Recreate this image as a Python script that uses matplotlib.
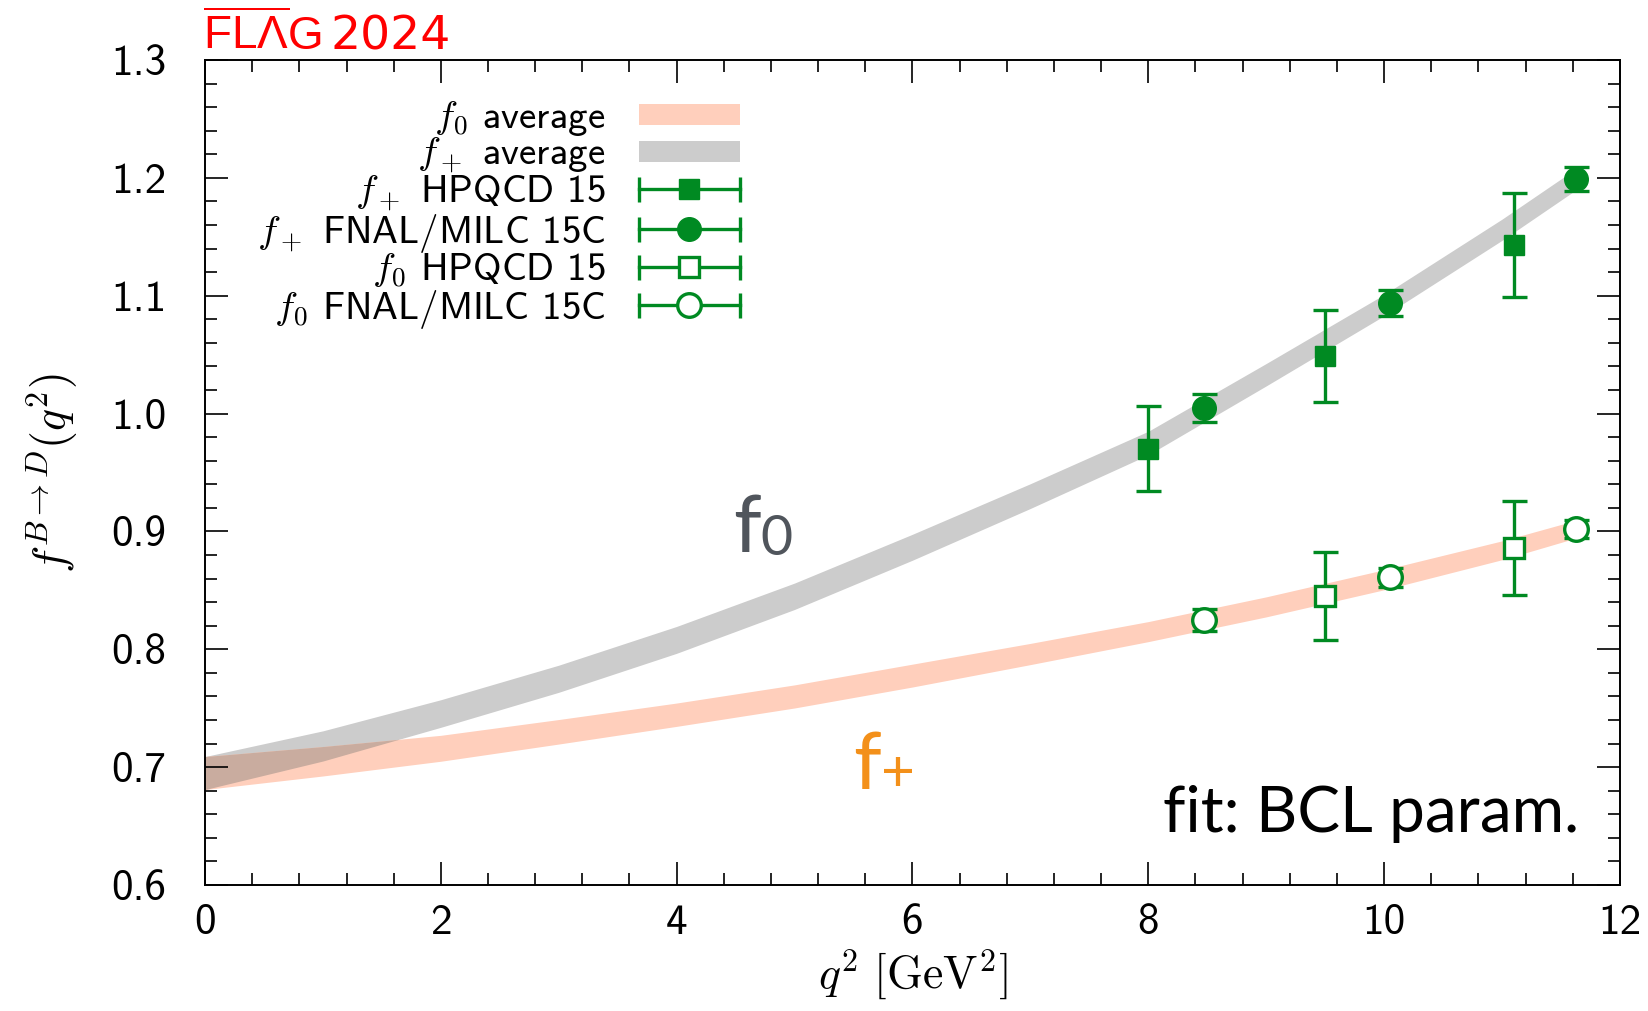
import numpy as np
import matplotlib
matplotlib.use("Agg")
import matplotlib.pyplot as plt
from matplotlib.ticker import MultipleLocator, FormatStrFormatter
from matplotlib.legend_handler import HandlerBase
from matplotlib.lines import Line2D
from matplotlib.patches import Patch

plt.rcParams['mathtext.fontset'] = 'cm'

# bands (average)
q2_band = [0, 1, 2, 3, 4, 5, 6, 7, 8, 9, 10, 11, 11.63]
fp_avg = [0.695, 0.718, 0.7455, 0.775, 0.808, 0.845, 0.8866, 0.930, 0.975, 1.033, 1.092, 1.156, 1.199]
fp_err = [0.014, 0.0128, 0.0117, 0.0115, 0.0114, 0.0112, 0.011, 0.0105, 0.010, 0.0095, 0.009, 0.009, 0.009]
f0_avg = [0.695, 0.705, 0.716, 0.730, 0.7445, 0.760, 0.7777, 0.796, 0.815, 0.836, 0.859, 0.884, 0.902]
f0_err = [0.014, 0.0125, 0.011, 0.0104, 0.0099, 0.0098, 0.0097, 0.009, 0.0085, 0.0085, 0.0085, 0.008, 0.0075]

# lattice points
hpqcd_q2 = [8.0, 9.5, 11.1]
hpqcd_fp = [0.970, 1.049, 1.143]
hpqcd_fp_err = [0.036, 0.039, 0.044]
hpqcd_f0_q2 = [9.5, 11.1]
hpqcd_f0 = [0.845, 0.886]
hpqcd_f0_err = [0.0375, 0.040]
fnal_q2 = [8.47, 10.05, 11.63]
fnal_fp = [1.005, 1.094, 1.199]
fnal_fp_err = [0.012, 0.011, 0.010]
fnal_f0 = [0.825, 0.861, 0.902]
fnal_f0_err = [0.0095, 0.008, 0.0075]

legend_labels = [r'$f_0$ average', r'$f_+$ average',
                 r'$f_+$ HPQCD 15', r'$f_+$ FNAL/MILC 15C',
                 r'$f_0$ HPQCD 15', r'$f_0$ FNAL/MILC 15C']

green = '#008A22'
grey = '#CCCCCC'
peach = '#FFCFBC'
overlap = '#C9AC9F'
sans = ['cmss10', 'DejaVu Sans']


class HandlerHBar(HandlerBase):
    # horizontal bar with end caps, marker in the middle
    def create_artists(self, legend, orig, xd, yd, width, height, fontsize, trans):
        y = height / 2 - yd
        x0, x1 = -xd, width - xd
        bar = Line2D([x0, x1], [y, y], color=orig.get_color(), lw=orig.get_linewidth())
        caps = Line2D([x0, x1], [y, y], ls='none', marker='|', ms=18,
                      mew=orig.get_linewidth(), color=orig.get_color())
        mk = Line2D([(x0 + x1) / 2], [y], ls='none', marker=orig.get_marker(),
                    ms=orig.get_markersize(), mfc=orig.get_markerfacecolor(),
                    mec=orig.get_markeredgecolor(), mew=orig.get_markeredgewidth())
        for a in (bar, caps, mk):
            a.set_transform(trans)
        return [bar, caps, mk]


fig = plt.figure(figsize=(16.49, 10.11), dpi=100)
ax = fig.add_axes([205/1649, 1-885/1011, 1415/1649, 825/1011])

q = np.array(q2_band)
fp_lo = np.array(fp_avg) - np.array(fp_err)
fp_hi = np.array(fp_avg) + np.array(fp_err)
f0_lo = np.array(f0_avg) - np.array(f0_err)
f0_hi = np.array(f0_avg) + np.array(f0_err)

ax.fill_between(q, fp_lo, fp_hi, color=grey, lw=0, zorder=1)
ax.fill_between(q, f0_lo, f0_hi, color=peach, lw=0, zorder=1.1)
lo = np.maximum(fp_lo, f0_lo)
hi = np.minimum(fp_hi, f0_hi)
ax.fill_between(q, lo, hi, where=hi > lo, color=overlap, lw=0, zorder=1.2, interpolate=True)

eb = dict(color=green, ecolor=green, elinewidth=2.4, capsize=9, capthick=2.4, ls='none', zorder=3)
ax.errorbar(hpqcd_q2, hpqcd_fp, yerr=hpqcd_fp_err, fmt='s', ms=15, **eb)
ax.errorbar(fnal_q2, fnal_fp, yerr=fnal_fp_err, fmt='o', ms=17, **eb)
ax.errorbar(hpqcd_f0_q2, hpqcd_f0, yerr=hpqcd_f0_err, fmt='s', ms=15, mfc='white', mec=green, mew=2.4, **eb)
ax.errorbar(fnal_q2, fnal_f0, yerr=fnal_f0_err, fmt='o', ms=17, mfc='white', mec=green, mew=2.4, **eb)

# legend proxies
lk = dict(color=green, lw=2.4)
handles = [Patch(color=peach, lw=0), Patch(color=grey, lw=0),
           Line2D([], [], marker='s', ms=15, mfc=green, mec=green, **lk),
           Line2D([], [], marker='o', ms=17, mfc=green, mec=green, **lk),
           Line2D([], [], marker='s', ms=15, mfc='white', mec=green, mew=2.4, **lk),
           Line2D([], [], marker='o', ms=17, mfc='white', mec=green, mew=2.4, **lk)]
ax.legend(handles, legend_labels, loc='upper right',
          bbox_to_anchor=((740-205)/1415, (885-99)/825), frameon=False,
          markerfirst=False, prop={'family': sans, 'size': 28}, handlelength=2.6,
          handleheight=0.45, handletextpad=0.85, labelspacing=-0.06, borderpad=0,
          borderaxespad=0, handler_map={Line2D: HandlerHBar()})

ax.set_xlim(0, 12)
ax.set_ylim(0.6, 1.3)
ax.xaxis.set_major_locator(MultipleLocator(2))
ax.xaxis.set_minor_locator(MultipleLocator(0.4))
ax.yaxis.set_major_locator(MultipleLocator(0.1))
ax.yaxis.set_minor_locator(MultipleLocator(0.02))
ax.xaxis.set_major_formatter(FormatStrFormatter('%d'))
ax.yaxis.set_major_formatter(FormatStrFormatter('%.1f'))
ax.tick_params(which='both', direction='in', top=True, right=True, width=1.2,
               labelsize=31, labelfontfamily='cmss10')
ax.tick_params(which='major', length=16.5)
ax.tick_params(which='minor', length=8.6)
ax.tick_params(axis='x', pad=14)
ax.tick_params(axis='y', pad=28)
for s in ax.spines.values():
    s.set_linewidth(1.4)

ax.set_xlabel(r'$q^2\ [\mathrm{GeV}^2]$', fontsize=33, labelpad=4)
ax.set_ylabel(r'$f^{B\rightarrow D}(q^2)$', fontsize=33, labelpad=22)

# curve names (as in the original)
ax.text(4.48, 0.8825, 'f', family='Lato', fontsize=57, color='#50555C')
ax.text(4.71, 0.8797, '0', family='Lato', fontsize=40, color='#50555C')
ax.text(5.50, 0.6816, 'f', family='Lato', fontsize=57, color='#F3901A')
ax.text(5.73, 0.680, '+', family='Lato', fontsize=42, color='#F3901A')
ax.text(11.65, 0.645, 'fit: BCL param.', family='Lato', fontsize=46, ha='right', va='baseline')

fig.text(203/1649, 1-50/1011, r'$\overline{\mathregular{FL\Lambda}}\mathregular{G}$',
         family='Liberation Sans', fontsize=33, color='red', va='baseline')
fig.text(330/1649, 1-50/1011, '2024', family='DejaVu Sans', fontsize=34, color='red', va='baseline')

fig.savefig('out.png', dpi=100)
